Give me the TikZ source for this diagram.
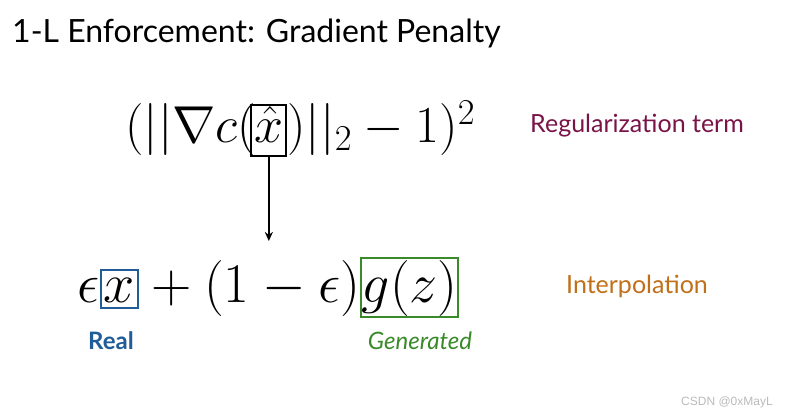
\RequirePackage{fix-cm}
\documentclass[tikz,border=0pt]{standalone}
\usepackage{fontspec}
\setmainfont{Lato}
\newfontfamily\wmfont{Liberation Sans}
\usetikzlibrary{arrows.meta}
\definecolor{realblue}{HTML}{1F5C99}
\definecolor{gengreen}{HTML}{3A8A2A}
\definecolor{regcolor}{HTML}{7A1448}
\definecolor{interpcolor}{HTML}{C0701A}
\definecolor{wmgrey}{HTML}{BBBBBB}
\tikzset{
  fone/.style={inner sep=0pt, anchor=base west, font=\fontsize{52}{62}\selectfont},
  ftwo/.style={inner sep=0pt, anchor=base west, font=\fontsize{56}{66}\selectfont},
  markbox/.style={draw, line width=2pt},
  lbl/.style={inner sep=0pt, anchor=base, font=\fontsize{25}{30}\selectfont},
  sublbl/.style={inner sep=0pt, anchor=base, font=\fontsize{24}{28}\selectfont},
  arr/.style={-{Stealth[length=9pt,width=8pt]}, line width=1.6pt}
}
\begin{document}
\begin{tikzpicture}[x=1pt,y=-1pt]
\useasboundingbox[fill=white] (0,0) rectangle (786,414);
% title
\node[inner sep=0pt, anchor=base west, font=\fontsize{32}{38}\selectfont] (title) at (12,43) {1-L Enforcement: Gradient Penalty};
% regularization term
\node[fone] (pa) at (125,143) {$(||\nabla c($};
\node[fone, markbox, inner xsep=3pt, inner ysep=0pt, text height=38pt, text depth=13pt, anchor=base west] (xh) at ([xshift=-6pt]pa.base east) {$\hat{x}$};
\node[fone] (pb) at (xh.base east) {$)||_2-1)^2$};
% interpolation
\node[ftwo] (eps) at (77,302) {$\epsilon$};
\node[ftwo, markbox, draw=realblue, inner xsep=3pt, inner ysep=0pt, text height=32pt, text depth=6pt] (xr) at (eps.base east) {$x$};
\node[ftwo] (mid) at (xr.base east) {${}+(1-\epsilon)$};
\node[ftwo, markbox, draw=gengreen, inner xsep=0.5pt, inner ysep=0pt, text height=44pt, text depth=15pt] (gz) at (mid.base east) {$g(z)$};
% arrow
\coordinate (tip) at (xh.south |- 0,241);
\draw[arr] (xh.south) -- (tip);
% labels
\node[lbl, text=regcolor] (reg) at (637,133) {Regularization term};
\node[lbl, text=interpcolor] (interp) at (637,293) {Interpolation};
\node[sublbl, text=realblue, font=\fontsize{24}{28}\selectfont\bfseries] (real) at (111,349) {Real};
\node[sublbl, text=gengreen, font=\fontsize{24}{28}\selectfont\itshape] (gen) at (420,349) {Generated};
% watermark
\node[inner sep=0pt, anchor=base, text=wmgrey, font=\wmfont\fontsize{12}{14}\selectfont] (wm) at (727,405) {CSDN @0xMayL};
\end{tikzpicture}
\end{document}
